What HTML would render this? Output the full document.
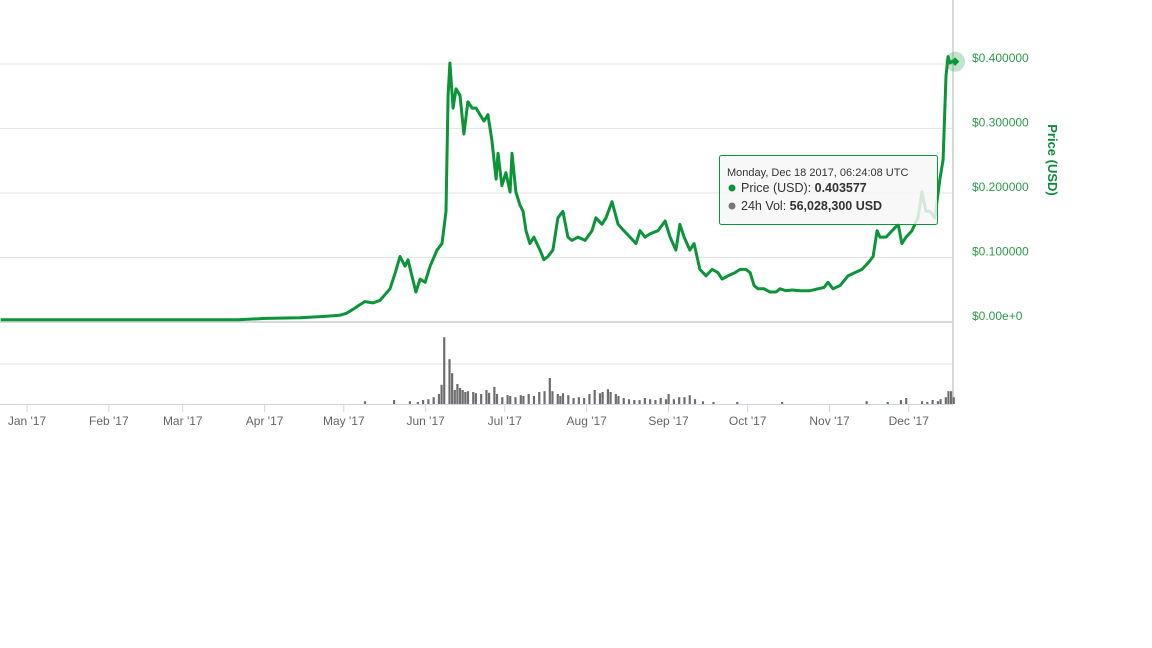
<!DOCTYPE html>
<html><head><meta charset="utf-8"><style>
html,body{margin:0;padding:0;background:#fff;}
svg{display:block;font-family:"Liberation Sans","DejaVu Sans",sans-serif;}
</style></head><body>
<svg id="chart" width="1152" height="648" viewBox="0 0 1152 648">
<g id="grid"></g>
<g id="vol"></g>
<g id="xaxis"></g>
<g id="yaxis"></g>
<text transform="translate(1048,160) rotate(90)" text-anchor="middle" font-size="13" font-weight="bold" fill="#0a8a3a">Price (USD)</text>
<path id="line" fill="none" stroke="#0c9438" stroke-width="3" stroke-linejoin="round"></path>
<circle id="halo" r="10" fill="#0c9438" fill-opacity="0.25"></circle>
<rect id="marker" width="6" height="6" fill="#0c9438"></rect>
<g>
<rect x="719.5" y="155.5" width="218" height="69" rx="2" fill="#f7f7f7" fill-opacity="0.85" stroke="#0c9438" stroke-width="1"></rect>
<text x="727" y="176" font-size="11" fill="#333">Monday, Dec 18 2017, 06:24:08 UTC</text>
<circle cx="732" cy="188" r="3.5" fill="#0c9438"></circle>
<text x="741" y="192" font-size="12.5" fill="#333">Price (USD): <tspan font-weight="bold">0.403577</tspan></text>
<circle cx="732" cy="206" r="3.5" fill="#777"></circle>
<text x="741" y="210" font-size="12.5" fill="#333">24h Vol: <tspan font-weight="bold">56,028,300 USD</tspan></text>
</g>
</svg>
<script>
const priceDays=[-10,30,60,80,90.5,103.4,112,118.6,121,124.2,126,128,131,133.7,137.5,139.5,141.3,143.2,144.3,145.8,147.3,148.9,150.8,152.7,155.3,157.2,158.7,159.5,160.2,161.4,162.5,164,165.5,167,168.6,170.1,171.6,173.1,174.6,176.1,177.7,178.4,179.9,181.4,183,183.7,185.2,186.7,187.9,189,190.5,192,194.3,195.8,197.3,199.2,201.1,203,204.9,206.4,208.7,211.4,214,215.5,217.8,219.3,221.6,223.9,226.1,228.4,230.7,232.2,234.1,236,239,241.7,243.6,245.8,247.3,248.9,251.1,252.7,254.9,257.2,259.5,261.7,263.3,265.5,268.2,270.1,272.3,273.9,275.4,276.9,279.2,281.4,283.7,285.2,287.5,289.8,292.8,296.6,299.6,301.9,303.4,305.3,308,311,313.6,316.3,318.6,320.5,322,323.1,325.4,327.7,330,331.4,333,335.2,337.5,339,340.5,342,343.9,345.8,347,348.1,348.9,349.6,350.8];
const priceValues=[0.002,0.002,0.002,0.002,0.004,0.005,0.007,0.009,0.012,0.02,0.025,0.03,0.028,0.032,0.05,0.075,0.1,0.085,0.095,0.07,0.045,0.065,0.06,0.085,0.11,0.12,0.17,0.35,0.4,0.33,0.36,0.35,0.29,0.34,0.33,0.33,0.32,0.31,0.32,0.28,0.22,0.26,0.21,0.23,0.2,0.26,0.2,0.18,0.17,0.14,0.12,0.13,0.11,0.095,0.1,0.11,0.16,0.17,0.13,0.125,0.13,0.125,0.14,0.16,0.15,0.16,0.185,0.15,0.14,0.13,0.12,0.14,0.13,0.135,0.14,0.155,0.13,0.11,0.15,0.13,0.11,0.12,0.08,0.07,0.08,0.075,0.065,0.07,0.075,0.08,0.08,0.075,0.055,0.05,0.05,0.045,0.045,0.05,0.047,0.048,0.047,0.047,0.05,0.052,0.06,0.05,0.055,0.07,0.075,0.08,0.09,0.1,0.14,0.13,0.13,0.14,0.15,0.12,0.13,0.14,0.16,0.2,0.17,0.17,0.16,0.22,0.25,0.38,0.41,0.40,0.4036];
const volDays=[128,139,145,148,150,152,154,156,157,158,160,161,162,163,164,165,166,167,169,170,172,174,175,177,178,180,182,183,185,187,188,190,192,194,196,198,199,201,202,203,205,207,209,211,213,215,217,218,220,221,223,224,226,228,230,232,234,236,238,240,242,243,245,247,249,251,253,256,260,269,286,318,326,331,333,339,341,343,345,346,348,349,350,351];
const volValues=[7,10,7,5,10,12,17,25,48,167,112,77,35,50,40,35,30,32,30,27,25,35,28,43,25,17,22,20,17,22,20,25,20,30,32,65,32,25,20,27,22,15,17,15,25,35,27,30,37,30,25,20,15,12,10,10,15,12,10,15,12,25,12,17,17,22,12,7,5,5,5,7,5,10,15,7,5,10,7,12,17,32,32,17];
const monthLabels=["Jan '17","Feb '17","Mar '17","Apr '17","May '17","Jun '17","Jul '17","Aug '17","Sep '17","Oct '17","Nov '17","Dec '17"];
const monthDays=[0,31,59,90,120,151,181,212,243,273,304,334];
const priceTicks=[0,0.1,0.2,0.3,0.4];
const priceTickLabels=["$0.00e+0","$0.100000","$0.200000","$0.300000","$0.400000"];

const NS="http://www.w3.org/2000/svg";
const xS=d=>27+2.64*d;
const yP=v=>321-645*v;
const yV=v=>404-0.4*v;
function mk(tag,attrs,parent){const e=document.createElementNS(NS,tag);for(const k in attrs)e.setAttribute(k,attrs[k]);parent.appendChild(e);return e;}
const grid=document.getElementById('grid');
priceTicks.forEach((t,i)=>{
  const l=mk('line',{x1:0,x2:953,y1:yP(t)+1,y2:yP(t)+1,stroke:i===0?'#d8d8d8':'#e6e6e6','stroke-width':i===0?2:1},grid);
  
  
});
const vg=mk('line',{x1:0,x2:953,y1:364,y2:364,stroke:'#e6e6e6','stroke-width':1},grid);


const vl=mk('line',{x1:953,x2:953,y1:0,y2:404,stroke:'#d8d8d8','stroke-width':2},grid);


const ya=document.getElementById('yaxis');
priceTicks.forEach((t,i)=>{
  const tx=mk('text',{x:972,y:yP(t)-1,'font-size':12,fill:'#2e9a4a'},ya);
  tx.textContent=priceTickLabels[i];
  
  
});
const vol=document.getElementById('vol');
volDays.forEach((d,i)=>{
  const r=mk('rect',{x:xS(d)-1,y:yV(volValues[i]),width:2.2,height:404-yV(volValues[i]),fill:'#6e6e6e'},vol);
  
  
});
const xa=document.getElementById('xaxis');
const ax=mk('line',{x1:0,x2:953,y1:404.5,y2:404.5,stroke:'#ccd6eb','stroke-width':1},xa);


monthDays.forEach((d,i)=>{
  const x=xS(d);
  const tk=mk('line',{x1:x,x2:x,y1:404,y2:412,stroke:'#ccd6eb'},xa);
  
  
  const tx=mk('text',{x:x,y:425,'font-size':12,fill:'#666','text-anchor':'middle'},xa);
  tx.textContent=monthLabels[i];
  
  
});
let d='';
priceDays.forEach((t,i)=>{d+=(i?'L':'M')+xS(t).toFixed(1)+','+yP(priceValues[i]).toFixed(1);});
document.getElementById('line').setAttribute('d',d);
const li=priceDays.length-1;
const hx=xS(priceDays[li])+2, hy=yP(priceValues[li])+1;
document.getElementById('halo').setAttribute('cx',hx);
document.getElementById('halo').setAttribute('cy',hy);
const m=document.getElementById('marker');
m.setAttribute('x',hx-3);m.setAttribute('y',hy-3);
m.setAttribute('transform','rotate(45 '+hx+' '+hy+')');
</script>
</body></html>
